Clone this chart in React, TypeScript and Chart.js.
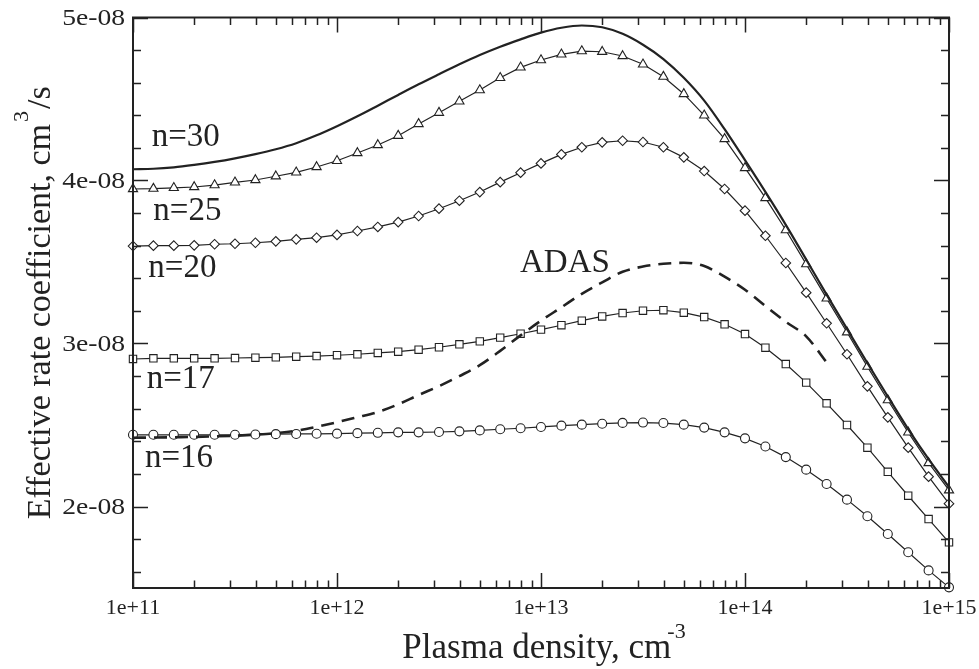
import React, { useEffect, useRef } from "react";
import { Chart, registerables } from "chart.js";

Chart.register(...registerables);

// Plasma density, cm^-3 (0.1 decade grid)
const density = [
  1e11, 1.259e11, 1.585e11, 1.995e11, 2.512e11, 3.162e11, 3.981e11, 5.012e11, 6.31e11, 7.943e11,
  1e12, 1.259e12, 1.585e12, 1.995e12, 2.512e12, 3.162e12, 3.981e12, 5.012e12, 6.31e12, 7.943e12,
  1e13, 1.259e13, 1.585e13, 1.995e13, 2.512e13, 3.162e13, 3.981e13, 5.012e13, 6.31e13, 7.943e13,
  1e14, 1.259e14, 1.585e14, 1.995e14, 2.512e14, 3.162e14, 3.981e14, 5.012e14, 6.31e14, 7.943e14,
  1e15,
];

// Effective rate coefficients, units of 1e-8 cm^3/s
const n30 = [
  4.069, 4.072, 4.081, 4.096, 4.114, 4.136, 4.162, 4.192, 4.229, 4.277,
  4.333, 4.394, 4.459, 4.525, 4.59, 4.652, 4.713, 4.77, 4.821, 4.866,
  4.907, 4.937, 4.951, 4.94, 4.9, 4.833, 4.745, 4.63, 4.49, 4.315,
  4.125, 3.93, 3.728, 3.515, 3.3, 3.09, 2.88, 2.675, 2.475, 2.29,
  2.12,
];
const n25 = [
  3.948, 3.95, 3.955, 3.96, 3.972, 3.989, 4.003, 4.026, 4.05, 4.083,
  4.121, 4.169, 4.218, 4.275, 4.347, 4.416, 4.486, 4.555, 4.63, 4.694,
  4.739, 4.774, 4.794, 4.79, 4.764, 4.713, 4.637, 4.531, 4.4, 4.255,
  4.077, 3.893, 3.696, 3.487, 3.277, 3.069, 2.858, 2.653, 2.455, 2.267,
  2.1,
];
const n20 = [
  3.598, 3.6, 3.6, 3.602, 3.609, 3.612, 3.618, 3.627, 3.639, 3.649,
  3.666, 3.69, 3.715, 3.745, 3.782, 3.827, 3.876, 3.929, 3.99, 4.048,
  4.105, 4.16, 4.204, 4.234, 4.244, 4.236, 4.204, 4.142, 4.058, 3.948,
  3.815, 3.661, 3.494, 3.312, 3.124, 2.934, 2.737, 2.547, 2.361, 2.183,
  2.017,
];
const n17 = [
  2.905, 2.909, 2.909, 2.909, 2.909, 2.911, 2.913, 2.915, 2.919, 2.923,
  2.928, 2.934, 2.942, 2.95, 2.962, 2.977, 2.995, 3.013, 3.036, 3.06,
  3.085, 3.112, 3.14, 3.166, 3.187, 3.201, 3.204, 3.189, 3.162, 3.118,
  3.058, 2.974, 2.874, 2.76, 2.633, 2.5, 2.361, 2.213, 2.066, 1.923,
  1.78,
];
const n16 = [
  2.44, 2.44, 2.44, 2.44, 2.44, 2.44, 2.442, 2.444, 2.445, 2.446,
  2.447, 2.45, 2.452, 2.455, 2.455, 2.457, 2.461, 2.467, 2.474, 2.48,
  2.488, 2.496, 2.502, 2.508, 2.513, 2.515, 2.512, 2.502, 2.484, 2.455,
  2.418, 2.368, 2.303, 2.226, 2.138, 2.042, 1.94, 1.831, 1.719, 1.608,
  1.504,
];
// ADAS curve (first 35 densities, up to ~2.5e14)
const adas = [
  2.422, 2.423, 2.425, 2.427, 2.43, 2.434, 2.441, 2.45, 2.465, 2.489,
  2.517, 2.548, 2.58, 2.627, 2.684, 2.738, 2.8, 2.867, 2.955, 3.05,
  3.14, 3.222, 3.305, 3.375, 3.44, 3.472, 3.489, 3.495, 3.475, 3.41,
  3.33, 3.23, 3.133, 3.044, 2.885,
];

const UNIT = 1e-8;

const xTickValues = [1e11, 1e12, 1e13, 1e14, 1e15];
const xTickLabels = ["1e+11", "1e+12", "1e+13", "1e+14", "1e+15"];
const yTickValues = [2e-8, 3e-8, 4e-8, 5e-8];
const yTickLabels = ["2e-08", "3e-08", "4e-08", "5e-08"];

// curve labels: [text, density, value(1e-8)]
const curveLabels: [string, number, number][] = [
  ["n=30", 1.235e11, 4.212],
  ["n=25", 1.257e11, 3.758],
  ["n=20", 1.189e11, 3.408],
  ["n=17", 1.167e11, 2.725],
  ["n=16", 1.145e11, 2.244],
  ["ADAS", 7.89e12, 3.44],
];

const SERIF = '"Liberation Serif", "Times New Roman", serif';
const INK = "#222";

const toPoints = (vals: number[]) => vals.map((v, i) => ({ x: density[i], y: v * UNIT }));

const framePlugin = {
  id: "frame",
  afterDatasetsDraw(chart: any) {
    const ctx = chart.ctx;
    const { left, right, top, bottom } = chart.chartArea;
    const xs = chart.scales.x;
    const ys = chart.scales.y;
    ctx.save();
    ctx.strokeStyle = INK;
    ctx.lineWidth = 1.5;
    for (let d = 11; d <= 15; d++) {
      for (let m = 1; m <= 9; m++) {
        if (d === 15 && m > 1) break;
        const v = m * Math.pow(10, d);
        const px = Math.round(xs.getPixelForValue(v)) + 0.5;
        const len = m === 1 ? 15 : 7.5;
        ctx.beginPath();
        ctx.moveTo(px, bottom);
        ctx.lineTo(px, bottom - len);
        ctx.moveTo(px, top);
        ctx.lineTo(px, top + len);
        ctx.stroke();
      }
    }
    for (let k = 8; k <= 25; k++) {
      const v = k * 0.2 * UNIT;
      const major = k % 5 === 0;
      const py = Math.round(ys.getPixelForValue(v)) + 0.5;
      const len = major ? 15 : 8;
      ctx.beginPath();
      ctx.moveTo(left, py);
      ctx.lineTo(left + len, py);
      ctx.moveTo(right, py);
      ctx.lineTo(right - len, py);
      ctx.stroke();
    }
    ctx.lineWidth = 2;
    ctx.strokeRect(left, top, right - left, bottom - top);
    ctx.restore();
  },
  afterDraw(chart: any) {
    const ctx = chart.ctx;
    const { left, right, top, bottom } = chart.chartArea;
    const xs = chart.scales.x;
    const ys = chart.scales.y;
    ctx.save();
    ctx.fillStyle = INK;

    // x tick labels
    ctx.font = `22px ${SERIF}`;
    ctx.textAlign = "center";
    ctx.textBaseline = "alphabetic";
    xTickValues.forEach((v, i) => {
      ctx.fillText(xTickLabels[i], xs.getPixelForValue(v), bottom + 26);
    });

    // y tick labels (wide)
    ctx.font = `24px ${SERIF}`;
    ctx.textAlign = "right";
    ctx.textBaseline = "middle";
    yTickValues.forEach((v, i) => {
      const py = ys.getPixelForValue(v);
      ctx.save();
      ctx.translate(left - 8, py + 1);
      ctx.scale(1.15, 1);
      ctx.fillText(yTickLabels[i], 0, 0);
      ctx.restore();
    });

    // curve labels
    ctx.font = `33px ${SERIF}`;
    ctx.textAlign = "left";
    ctx.textBaseline = "alphabetic";
    curveLabels.forEach(([t, x, y]) => {
      ctx.fillText(t, xs.getPixelForValue(x), ys.getPixelForValue(y * UNIT));
    });

    // x title
    const cx = (left + right) / 2 + 3;
    ctx.font = `35px ${SERIF}`;
    const xMain = "Plasma density, cm";
    const wMain = ctx.measureText(xMain).width;
    ctx.font = `22px ${SERIF}`;
    const xSup = "-3";
    const wSup = ctx.measureText(xSup).width;
    const total = wMain - 4 + wSup;
    const sx = cx - total / 2;
    ctx.font = `35px ${SERIF}`;
    ctx.fillText(xMain, sx, 658);
    ctx.font = `22px ${SERIF}`;
    ctx.fillText(xSup, sx + wMain - 4, 638);

    // y title (rotated)
    ctx.save();
    ctx.translate(50, (top + bottom) / 2);
    ctx.rotate(-Math.PI / 2);
    const yMain = "Effective rate coefficient, cm";
    const ySup = "3";
    const yTail = "/s";
    ctx.font = `34px ${SERIF}`;
    const w1 = ctx.measureText(yMain).width;
    const w3 = ctx.measureText(yTail).width;
    ctx.font = `22px ${SERIF}`;
    const w2 = ctx.measureText(ySup).width;
    const tot = w1 + w2 + 4 + w3;
    let u = -tot / 2;
    ctx.font = `34px ${SERIF}`;
    ctx.fillText(yMain, u, 0);
    u += w1 + 2;
    ctx.font = `22px ${SERIF}`;
    ctx.fillText(ySup, u, -22);
    u += w2 + 2;
    ctx.font = `34px ${SERIF}`;
    ctx.fillText(yTail, u, 0);
    ctx.restore();

    ctx.restore();
  },
};

export default function App() {
  const ref = useRef<HTMLCanvasElement | null>(null);
  useEffect(() => {
    if (!ref.current) return;
    const marker = (style: string, r: number) => ({
      pointStyle: style,
      pointRadius: r,
      pointBorderWidth: 1.1,
      pointBorderColor: INK,
      pointBackgroundColor: "#fff",
      borderColor: INK,
      borderWidth: 1.2,
      tension: 0,
      clip: false,
      order: 1,
    });
    const chart = new Chart(ref.current, {
      type: "line",
      data: {
        datasets: [
          {
            label: "ADAS",
            data: toPoints(adas),
            borderColor: INK,
            borderWidth: 2.6,
            borderDash: [13, 8],
            pointRadius: 0,
            cubicInterpolationMode: "monotone",
            fill: false,
            order: 0,
          },
          {
            label: "n=30",
            data: toPoints(n30),
            borderColor: INK,
            borderWidth: 2.2,
            pointRadius: 0,
            cubicInterpolationMode: "monotone",
            fill: false,
            clip: false,
            order: 1,
          },
          { label: "n=25", data: toPoints(n25), ...marker("triangle", 5.3) },
          { label: "n=20", data: toPoints(n20), ...marker("rectRot", 4.8) },
          { label: "n=17", data: toPoints(n17), ...marker("rect", 5.2) },
          { label: "n=16", data: toPoints(n16), ...marker("circle", 4.5) },
        ] as any,
      },
      options: {
        animation: false,
        responsive: false,
        devicePixelRatio: 1,
        layout: { padding: { top: 17.5, right: 30, left: 0, bottom: 0 } },
        plugins: { legend: { display: false }, tooltip: { enabled: false } },
        scales: {
          x: {
            type: "logarithmic",
            min: 1e11,
            max: 1e15,
            grid: { display: false, drawTicks: false },
            border: { display: false },
            ticks: { display: false },
            afterFit: (s: any) => {
              s.height = 81;
            },
          },
          y: {
            type: "linear",
            min: 1.5e-8,
            max: 5e-8,
            grid: { display: false, drawTicks: false },
            border: { display: false },
            ticks: { display: false },
            afterFit: (s: any) => {
              s.width = 133;
            },
          },
        },
      } as any,
      plugins: [framePlugin],
    });
    return () => chart.destroy();
  }, []);
  return (
    <div style={{ position: "fixed", left: 0, top: 0, width: 979, height: 669, background: "#fff" }}>
      <canvas ref={ref} width={979} height={669} style={{ display: "block" }} />
    </div>
  );
}
